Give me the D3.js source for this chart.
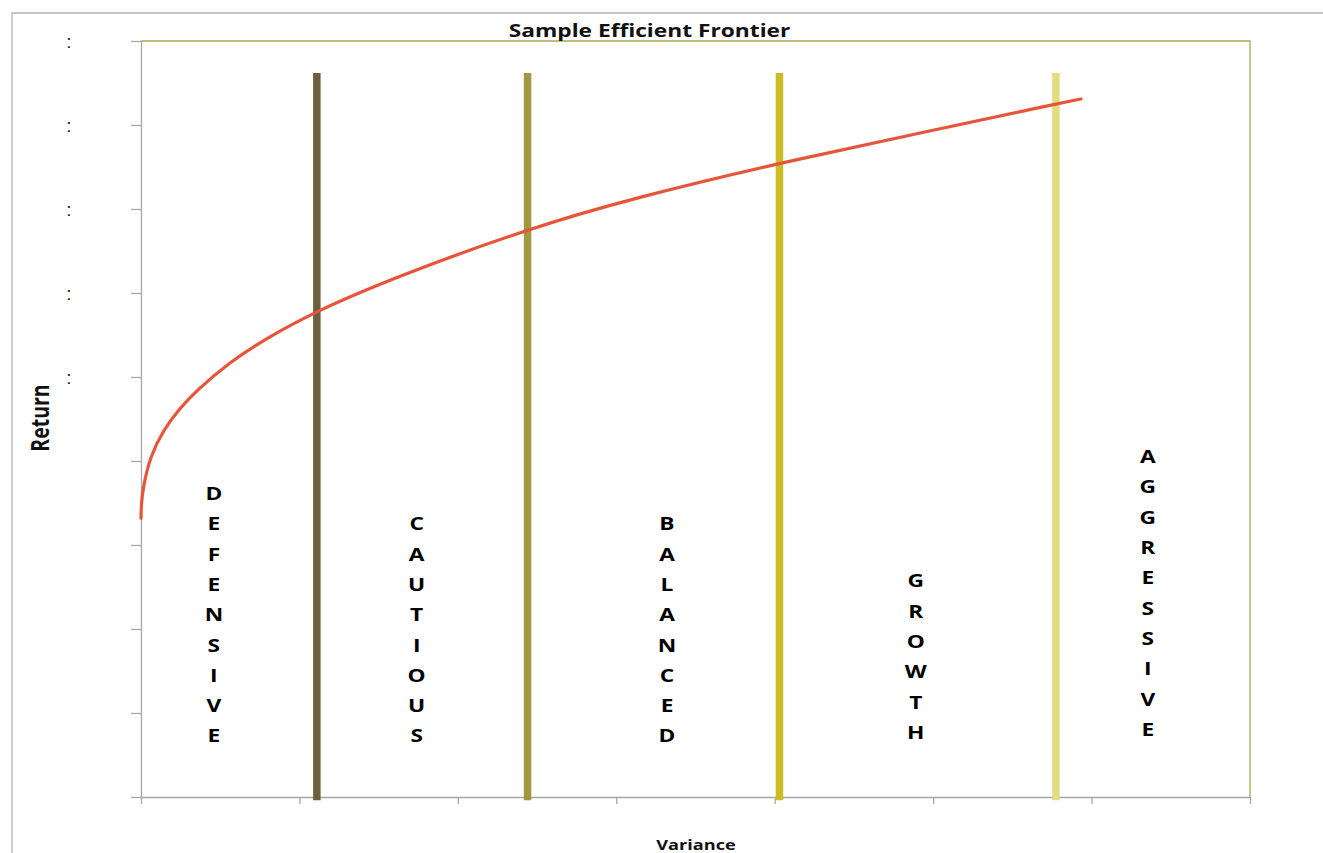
<!DOCTYPE html>
<html>
<head>
<meta charset="utf-8">
<script src="https://cdn.jsdelivr.net/npm/d3@7"></script>
<style>
html,body{margin:0;padding:0;background:#fff;}
svg{display:block;}
</style>
</head>
<body>
<svg id="chart" width="1323" height="853"></svg>
<script>
// ---- data ----
const chartTitle = "Sample Efficient Frontier";
const xAxisTitle = "Variance";
const yAxisTitle = "Return";
const xTicks = [0, 1, 2, 3, 4, 5, 6, 7];
const yTicks = [0, 1, 2, 3, 4, 5, 6, 7, 8, 9];
const yTickLabels = ["", "", "", "", "", ":", ":", ":", ":", ":"];
// efficient frontier curve (variance, return)
const frontierX = [0, 0.002, 0.015, 0.057, 0.141, 0.246, 0.351, 0.562, 0.772, 1.11, 1.635, 2.434, 3.108, 4.033, 4.98, 5.775, 5.933];
const frontierY = [3.32, 3.50, 3.70, 4.05, 4.37, 4.63, 4.84, 5.18, 5.44, 5.79, 6.21, 6.76, 7.13, 7.55, 7.93, 8.25, 8.31];
// profile boundary bars
const boundaryX = [1.11, 2.44, 4.03, 5.775];
const boundaryTop = [8.62, 8.62, 8.62, 8.62];
const boundaryBottom = [-0.04, -0.04, -0.04, -0.04];
const boundaryColors = ["#6a6140", "#9e9840", "#cdbd24", "#e2dc80"];
// risk profile labels
const profiles = ["DEFENSIVE", "CAUTIOUS", "BALANCED", "GROWTH", "AGGRESSIVE"];
const profileX = [0.46, 1.74, 3.32, 4.89, 6.355];
const profileTopY = [3.61, 3.25, 3.25, 2.57, 4.05];

// ---- layout ----
const svg = d3.select("#chart");
const mLeft = 141, mRight = 1250, mTop = 41, mBottom = 797;
const stretch = 1.3; // horizontal stretch of glyphs in the reference
const x = d3.scaleLinear().domain([0, 7]).range([mLeft, mRight]);
const y = d3.scaleLinear().domain([0, 9]).range([mBottom, mTop]);

// outer chart border
svg.append("path").attr("d", "M12,853 L12,13 L1323,13")
  .attr("fill", "none").attr("stroke", "#b4b4b4").attr("stroke-width", 1.3);

// plot border top/right
svg.append("path")
  .attr("d", `M${mLeft},${mTop} L${mRight},${mTop} L${mRight},${mBottom}`)
  .attr("fill", "none").attr("stroke", "#aea656").attr("stroke-width", 1.3);

// axes
const yAxis = svg.append("g").attr("transform", `translate(${mLeft},0)`)
  .call(d3.axisLeft(y).tickValues(yTicks).tickSize(10).tickSizeOuter(0).tickFormat(""));
const xAxis = svg.append("g").attr("transform", `translate(0,${mBottom})`)
  .call(d3.axisBottom(x).tickValues(xTicks).tickSize(7).tickSizeOuter(0).tickFormat(""));
[yAxis, xAxis].forEach(g => {
  g.select(".domain").attr("stroke", "#a6a6a6").attr("stroke-width", 1.3);
  g.selectAll(".tick line").attr("stroke", "#a6a6a6").attr("stroke-width", 1.3);
});

// y tick labels (tiny colons)
svg.append("g").selectAll("text").data(yTicks).join("text")
  .attr("x", 69).attr("y", d => y(d))
  .attr("text-anchor", "middle").attr("dominant-baseline", "central")
  .attr("font-family", "'Liberation Sans'").attr("font-size", 19).attr("fill", "#222")
  .text((d, i) => yTickLabels[i]);

// boundary bars
svg.append("g").selectAll("line").data(boundaryX).join("line")
  .attr("x1", d => x(d)).attr("x2", d => x(d))
  .attr("y1", (d, i) => y(boundaryTop[i])).attr("y2", (d, i) => y(boundaryBottom[i]))
  .attr("stroke", (d, i) => boundaryColors[i]).attr("stroke-width", 7.5);

// frontier curve
const pts = frontierX.map((v, i) => [v, frontierY[i]]);
svg.append("path").datum(pts)
  .attr("d", d3.line().x(d => x(d[0])).y(d => y(d[1])).curve(d3.curveBasis))
  .attr("fill", "none").attr("stroke", "#e6553a").attr("stroke-width", 3.2)
  .attr("stroke-linecap", "round");

// vertical profile labels
const lg = svg.append("g").attr("font-family", "'Open Sans', sans-serif")
  .attr("font-weight", "bold").attr("font-size", 17.5).attr("fill", "#000");
profiles.forEach((p, i) => {
  p.split("").forEach((ch, j) => {
    const cx = x(profileX[i]);
    const cy = y(profileTopY[i]) + j * 30.3 + 6.3;
    lg.append("text")
      .attr("transform", `translate(${cx},${cy}) scale(${stretch},1)`)
      .attr("text-anchor", "middle")
      .text(ch);
  });
});

// titles
svg.append("text").attr("transform", `translate(649.5,36.5) scale(${stretch},1)`)
  .attr("text-anchor", "middle").attr("font-family", "'Open Sans', sans-serif")
  .attr("font-weight", "bold").attr("font-size", 17.5).attr("fill", "#111")
  .text(chartTitle);
svg.append("text").attr("transform", `translate(696,850) scale(${stretch},1)`)
  .attr("text-anchor", "middle").attr("font-family", "'Open Sans', sans-serif")
  .attr("font-weight", "bold").attr("font-size", 14).attr("fill", "#111")
  .text(xAxisTitle);
svg.append("text").attr("transform", `translate(49,418) scale(${stretch},1) rotate(-90)`)
  .attr("text-anchor", "middle").attr("font-family", "'Open Sans', sans-serif")
  .attr("font-weight", "bold").attr("font-size", 19.5).attr("fill", "#111")
  .text(yAxisTitle);
</script>
</body>
</html>
